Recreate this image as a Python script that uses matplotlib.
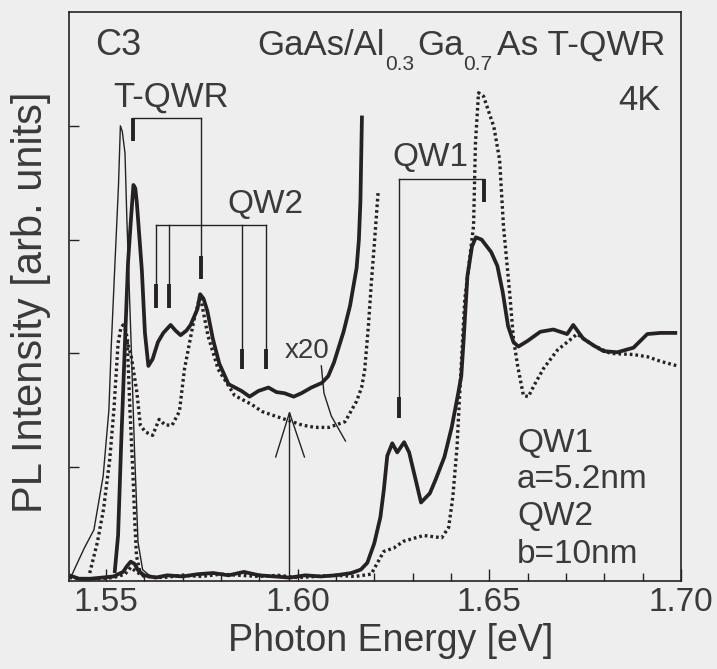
import numpy as np
import matplotlib.pyplot as plt

plt.rcParams['font.family'] = ['Liberation Sans', 'DejaVu Sans']

BG = '#eeeeee'
INK = '#262223'
TXT = '#3a3a3a'

# photoluminescence (thin solid)
pl_e = [1.5405, 1.5411, 1.5426, 1.5444, 1.5469, 1.5493, 1.5508, 1.5514, 1.5523, 1.5533,
        1.5538, 1.5543, 1.5550, 1.5555, 1.5566, 1.5575, 1.5584, 1.5596, 1.5620]
pl_i = [0.04, 0.05, 0.16, 0.29, 0.45, 0.92, 1.50, 2.05, 2.73, 3.47,
        4.00, 3.95, 3.76, 3.17, 2.09, 1.13, 0.34, 0.10, 0.03]

# short dotted flank under the T-QWR peak
pld_e = [1.5556, 1.5563, 1.5571, 1.5576, 1.5580, 1.5589, 1.5600]
pld_i = [2.10, 1.50, 0.92, 0.49, 0.22, 0.08, 0.04]

# x20 spectra
x20s_e = [1.5523, 1.5532, 1.5540, 1.5550, 1.5558, 1.5566, 1.5572, 1.5577, 1.5581, 1.5594,
          1.5602, 1.5611, 1.5622, 1.5636, 1.5650, 1.5669, 1.5682, 1.5695, 1.5710, 1.5721,
          1.5739, 1.5746, 1.5755, 1.5765, 1.5779, 1.5796, 1.5820, 1.5854, 1.5875, 1.5898,
          1.5924, 1.5945, 1.5966, 1.5990, 1.6010, 1.6036, 1.6063, 1.6080, 1.6095, 1.6120,
          1.6137, 1.6154, 1.6160, 1.6164, 1.6168]
x20s_i = [0.07, 0.40, 1.20, 2.10, 2.80, 3.20, 3.48, 3.45, 3.32, 2.73,
          2.18, 1.89, 1.95, 2.10, 2.18, 2.25, 2.20, 2.16, 2.20, 2.25,
          2.39, 2.52, 2.48, 2.37, 2.13, 1.91, 1.73, 1.67, 1.62, 1.67,
          1.70, 1.66, 1.65, 1.62, 1.65, 1.70, 1.74, 1.80, 1.92, 2.19,
          2.42, 2.75, 3.00, 3.34, 4.09]

x20d_e = [1.5458, 1.5478, 1.5494, 1.5510, 1.5521, 1.5532, 1.5539, 1.5545, 1.5552, 1.5560,
          1.5566, 1.5581, 1.5590, 1.5603, 1.5622, 1.5639, 1.5655, 1.5673, 1.5692, 1.5705,
          1.5729, 1.5746, 1.5766, 1.5793, 1.5836, 1.5881, 1.5907, 1.5941, 1.5977, 1.6012,
          1.6045, 1.6082, 1.6124, 1.6154, 1.6167, 1.6175, 1.6185, 1.6192, 1.6200, 1.6210]
x20d_i = [0.07, 0.34, 0.63, 1.06, 1.50, 2.09, 2.22, 2.25, 2.20, 2.05,
          1.98, 1.66, 1.37, 1.31, 1.28, 1.42, 1.37, 1.37, 1.49, 1.86,
          2.28, 2.51, 2.16, 1.86, 1.63, 1.55, 1.49, 1.45, 1.41, 1.37,
          1.35, 1.35, 1.40, 1.58, 1.70, 1.85, 2.25, 2.60, 2.95, 3.41]

# x1 spectra
x1s_e = [1.5405, 1.5430, 1.5460, 1.5490, 1.5520, 1.5545, 1.5555, 1.5565, 1.5575, 1.5585,
         1.5600, 1.5630, 1.5660, 1.5700, 1.5740, 1.5780, 1.5820, 1.5860, 1.5900, 1.5940,
         1.5980, 1.6020, 1.6060, 1.6100, 1.6140, 1.6165, 1.6182, 1.6200, 1.6216, 1.6225,
         1.6234, 1.6247, 1.6260, 1.6278, 1.6291, 1.6308, 1.6322, 1.6345, 1.6360, 1.6383,
         1.6402, 1.6419, 1.6427, 1.6433, 1.6443, 1.6455, 1.6465, 1.6480, 1.6505, 1.6521,
         1.6535, 1.6549, 1.6563, 1.6576, 1.6600, 1.6633, 1.6667, 1.6703, 1.6719, 1.6745,
         1.6772, 1.6798, 1.6834, 1.6876, 1.6912, 1.6946, 1.6990]
x1s_i = [0.05, 0.02, 0.02, 0.03, 0.04, 0.08, 0.13, 0.17, 0.15, 0.09,
         0.05, 0.03, 0.05, 0.04, 0.06, 0.07, 0.05, 0.08, 0.05, 0.04,
         0.03, 0.05, 0.04, 0.05, 0.07, 0.10, 0.16, 0.33, 0.56, 0.80,
         1.10, 1.21, 1.13, 1.22, 1.13, 0.89, 0.69, 0.77, 0.89, 1.09,
         1.35, 1.65, 1.80, 2.11, 2.68, 2.94, 3.02, 3.00, 2.89, 2.77,
         2.54, 2.24, 2.10, 2.06, 2.11, 2.19, 2.21, 2.17, 2.25, 2.13,
         2.07, 2.02, 2.01, 2.05, 2.17, 2.18, 2.18]

x1d_e = [1.5405, 1.5440, 1.5480, 1.5520, 1.5550, 1.5565, 1.5580, 1.5600, 1.5650, 1.5700,
         1.5750, 1.5800, 1.5850, 1.5900, 1.5950, 1.6000, 1.6050, 1.6100, 1.6150, 1.6192,
         1.6225, 1.6251, 1.6277, 1.6329, 1.6376, 1.6394, 1.6405, 1.6416, 1.6422, 1.6436,
         1.6459, 1.6464, 1.6472, 1.6485, 1.6512, 1.6527, 1.6537, 1.6553, 1.6563, 1.6574,
         1.6589, 1.6602, 1.6617, 1.6642, 1.6678, 1.6711, 1.6729, 1.6772, 1.6816, 1.6876,
         1.6913, 1.6947, 1.6991]
x1d_i = [0.03, 0.02, 0.02, 0.03, 0.06, 0.12, 0.08, 0.04, 0.03, 0.05,
         0.04, 0.06, 0.05, 0.04, 0.05, 0.03, 0.04, 0.05, 0.04, 0.06,
         0.26, 0.29, 0.35, 0.40, 0.38, 0.47, 0.74, 1.18, 1.59, 2.47,
         3.12, 3.85, 4.29, 4.26, 3.99, 3.70, 3.12, 2.54, 2.13, 1.89,
         1.63, 1.62, 1.72, 1.87, 2.03, 2.12, 2.17, 2.07, 2.00, 1.99,
         1.97, 1.93, 1.89]

W, H = 717, 669
fig = plt.figure(figsize=(W / 100, H / 100), dpi=100, facecolor=BG)
ax = fig.add_axes([69 / W, 1 - 581 / H, 612 / W, 569 / H])
ax.set_facecolor(BG)

thick = dict(color=INK, lw=2.7, solid_capstyle='butt')
dots = dict(color=INK, lw=2.4, ls=(0, (0.8, 0.9)))

ax.plot(pl_e, pl_i, color=INK, lw=1.0)
ax.plot(pld_e, pld_i, **dots)
ax.plot(x20s_e, x20s_i, **thick)
ax.plot(x20d_e, x20d_i, **dots)
ax.plot(x1s_e, x1s_i, **thick)
ax.plot(x1d_e, x1d_i, **dots)

# peak markers: thin brackets with thick end bars
thin = dict(color=INK, lw=1.0)
bar = dict(color=INK, lw=2.8, solid_capstyle='butt')

ax.plot([1.5570, 1.5747], [4.07, 4.07], **thin)
ax.plot([1.5570, 1.5570], [4.07, 3.87], **bar)
ax.plot([1.5747, 1.5747], [4.07, 2.86], **thin)
ax.plot([1.5747, 1.5747], [2.86, 2.65], **bar)

qw2_e = [1.5630, 1.5664, 1.5855, 1.5918]
qw2_bar = [(2.61, 2.40), (2.61, 2.40), (2.04, 1.86), (2.04, 1.86)]
ax.plot([qw2_e[0], qw2_e[-1]], [3.13, 3.13], **thin)
for e, (b0, b1) in zip(qw2_e, qw2_bar):
    ax.plot([e, e], [3.13, b0], **thin)
    ax.plot([e, e], [b0, b1], **bar)

ax.plot([1.6264, 1.6486], [3.53, 3.53], **thin)
ax.plot([1.6486, 1.6486], [3.53, 3.33], **bar)
ax.plot([1.6264, 1.6264], [3.53, 1.62], **thin)
ax.plot([1.6264, 1.6264], [1.62, 1.43], **bar)

# detection marker and x20 leader
ax.plot([1.5979, 1.5979], [0, 1.48], **thin)
ax.plot([1.5943, 1.5979, 1.6018], [1.09, 1.48, 1.09], **thin)
ax.plot([1.6062, 1.6069, 1.6088, 1.6125], [1.89, 1.65, 1.45, 1.23], **thin)

ax.set_xlim(1.5404, 1.7000)
ax.set_ylim(0, 5)
ax.set_xticks([1.55, 1.60, 1.65, 1.70])
ax.set_xticklabels(['1.55', '1.60', '1.65', '1.70'])
ax.set_xticks(np.arange(1.55, 1.705, 0.01), minor=True)
ax.set_yticks([1, 2, 3, 4])
ax.tick_params(axis='x', which='major', direction='in', length=9, width=1,
               labelsize=24, pad=4, colors=INK, labelcolor=TXT)
ax.tick_params(axis='x', which='minor', direction='in', length=6, width=1, colors=INK)
ax.tick_params(axis='y', direction='in', length=7, width=1, labelleft=False, colors=INK)
for s in ax.spines.values():
    s.set_color(INK)
    s.set_linewidth(1.2)


def put(x, y, s, size, **kw):
    fig.text(x / W, 1 - y / H, s, fontsize=size, color=TXT, va='baseline', **kw)


put(95, 55, 'C3', 26)
put(257, 55, 'GaAs/Al', 25)
put(385, 70, '0.3', 15)
put(417, 55, 'Ga', 25)
put(463, 70, '0.7', 15)
put(497, 55, 'As T-QWR', 25.5)
put(113, 107, 'T-QWR', 25)
put(227, 213, 'QW2', 24)
put(392, 166, 'QW1', 24)
put(618, 110, '4K', 25)
put(285, 358, 'x20', 20)
put(517, 452, 'QW1', 24)
put(517, 488, 'a=5.2nm', 24)
put(517, 525, 'QW2', 24)
put(517, 563, 'b=10nm', 24)
put(391, 651, 'Photon Energy [eV]', 27, ha='center')
fig.text(31 / W, 1 - 302 / H, 'PL Intensity [arb. units]', fontsize=30, color=TXT,
         rotation=90, ha='center', va='center')

fig.savefig('out.png', dpi=100, facecolor=BG)
